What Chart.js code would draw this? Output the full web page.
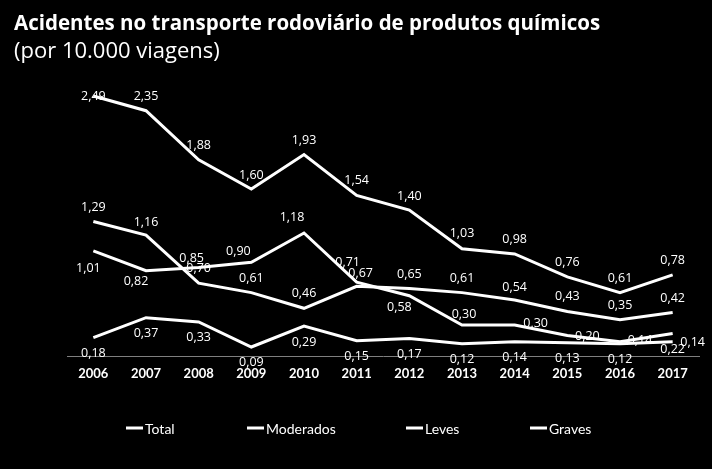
<!DOCTYPE html>
<html>
<head>
<meta charset="utf-8">
<script src="https://cdn.jsdelivr.net/npm/chart.js@4/dist/chart.umd.min.js"></script>
<style>
  html, body { margin: 0; padding: 0; background: #000; }
  #wrap { width: 712px; height: 469px; }
</style>
</head>
<body>
<div id="wrap"><canvas id="chart" width="712" height="469"></canvas></div>
<script>
const years = ['2006', '2007', '2008', '2009', '2010', '2011', '2012', '2013', '2014', '2015', '2016', '2017'];
const total     = [2.49, 2.35, 1.88, 1.60, 1.93, 1.54, 1.40, 1.03, 0.98, 0.76, 0.61, 0.78];
const moderados = [1.29, 1.16, 0.70, 0.61, 0.46, 0.67, 0.65, 0.61, 0.54, 0.43, 0.35, 0.42];
const leves     = [1.01, 0.82, 0.85, 0.90, 1.18, 0.71, 0.58, 0.30, 0.30, 0.20, 0.14, 0.22];
const graves    = [0.18, 0.37, 0.33, 0.09, 0.29, 0.15, 0.17, 0.12, 0.14, 0.13, 0.12, 0.14];
const seriesNames = ['Total', 'Moderados', 'Leves', 'Graves'];

// label offsets (px from the point) — mimic the spreadsheet's placement
const labelOffsets = [
    [[0, 0], [0, -14], [0, -14], [0, -14], [0, -14], [0, -15], [0, -14], [0, -15], [0, -14], [0, -14], [0, -14], [0, -14]],
    [[0, -14], [0, -13], [0, -15], [0, -14], [0, -15], [4, -13], [0, -14], [0, -14], [0, -13], [0, -15], [0, -14], [0, -14]],
    [[-5, 18], [-10, 11], [-7, -9], [-13, -11], [-12, -16], [-9, -20], [-10, 12], [2, -11], [21, -2], [20, 1], [20, -1], [0, 16]],
    [[0, 16], [0, 16], [0, 16], [0, 15], [0, 16], [0, 16], [0, 16], [0, 16], [0, 16], [0, 16], [0, 16], [20, 1]]
];
const legendX = [126, 247, 406, 530];

const fmt = (v) => v.toFixed(2).replace('.', ',');

const blackBg = {
    id: 'blackBg',
    beforeDraw(chart) {
        const c = chart.ctx;
        c.save();
        c.fillStyle = '#000';
        c.fillRect(0, 0, chart.width, chart.height);
        c.restore();
    }
};

const valueLabels = {
    id: 'valueLabels',
    afterDatasetsDraw(chart) {
        const c = chart.ctx;
        c.save();
        c.fillStyle = '#fff';
        c.font = '12.5px "Open Sans", Lato, sans-serif';
        c.textAlign = 'center';
        c.textBaseline = 'middle';
        chart.data.datasets.forEach((ds, i) => {
            const meta = chart.getDatasetMeta(i);
            meta.data.forEach((pt, j) => {
                const off = labelOffsets[i][j];
                c.fillText(fmt(ds.data[j]), pt.x + off[0], pt.y + off[1]);
            });
        });
        c.restore();
    }
};

const headerAndLegend = {
    id: 'headerAndLegend',
    afterDraw(chart) {
        const c = chart.ctx;
        c.save();
        c.fillStyle = '#fff';
        c.textAlign = 'left';
        c.textBaseline = 'middle';
        c.font = 'bold 20.5px "Open Sans", Lato, sans-serif';
        c.fillText('Acidentes no transporte rodoviário de produtos químicos', 14, 24);
        c.font = '22px "Open Sans", Lato, sans-serif';
        c.fillText('(por 10.000 viagens)', 14, 52);

        c.font = '14px Lato, "Open Sans", sans-serif';
        c.strokeStyle = '#fff';
        c.lineWidth = 3;
        seriesNames.forEach((name, i) => {
            const x = legendX[i];
            c.beginPath();
            c.moveTo(x, 428);
            c.lineTo(x + 17, 428);
            c.stroke();
            c.fillText(name, x + 19, 429);
        });
        c.restore();
    }
};

new Chart(document.getElementById('chart'), {
    type: 'line',
    data: {
        labels: years,
        datasets: [total, moderados, leves, graves].map((d, i) => ({
            label: seriesNames[i],
            data: d,
            borderColor: '#fff',
            borderWidth: 3,
            pointRadius: 0,
            tension: 0,
            fill: false,
            clip: false
        }))
    },
    options: {
        responsive: false,
        animation: false,
        layout: { padding: { left: 67, right: 13, top: 95, bottom: 77 } },
        plugins: {
            legend: { display: false },
            title: { display: false },
            tooltip: { enabled: false }
        },
        scales: {
            x: {
                offset: true,
                grid: { display: true, color: 'transparent', drawTicks: false, drawOnChartArea: false },
                border: { display: true, color: '#7f7f7f', width: 1 },
                ticks: {
                    color: '#fff',
                    padding: 10,
                    maxRotation: 0,
                    font: { family: 'Lato, "Open Sans", sans-serif', size: 13, weight: 'bold' }
                }
            },
            y: {
                display: false,
                min: 0,
                max: 2.5
            }
        }
    },
    plugins: [blackBg, valueLabels, headerAndLegend]
});
</script>
</body>
</html>
